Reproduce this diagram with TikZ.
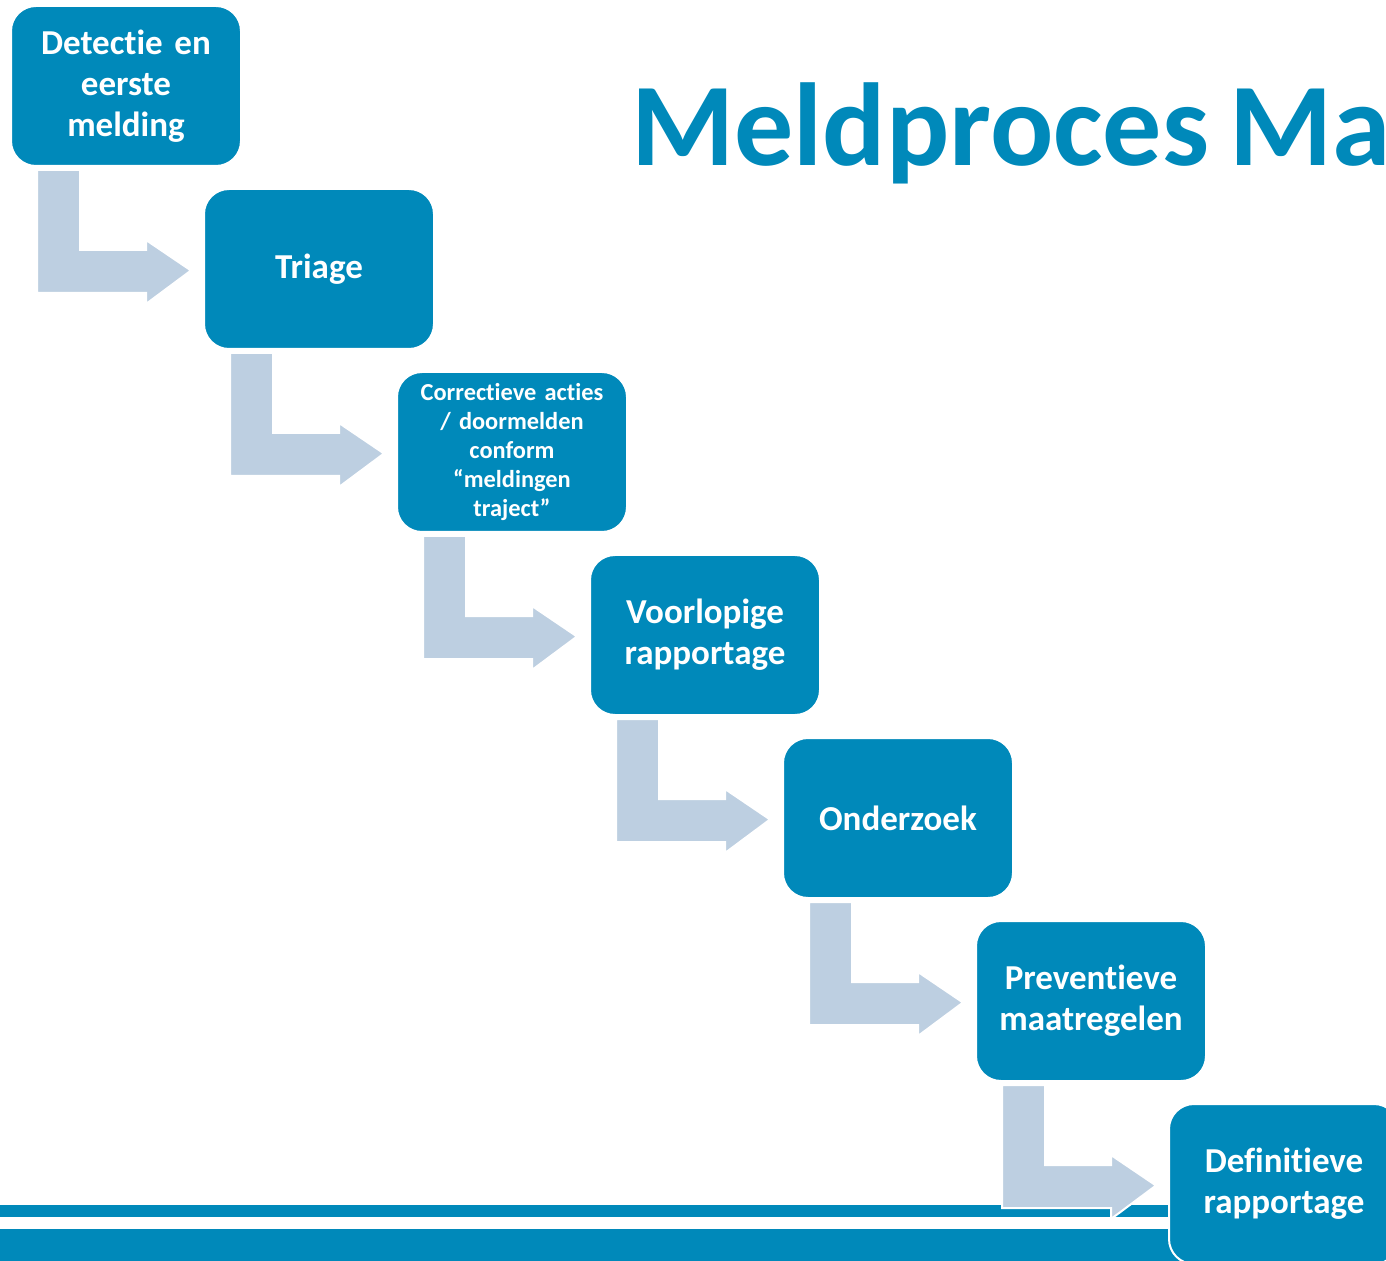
\documentclass[tikz,border=0pt]{standalone}
\usepackage{fontspec}
\setmainfont{Carlito}[Ligatures=NoCommon, WordSpace=0.75]
\usetikzlibrary{positioning,calc}
\definecolor{meldblue}{RGB}{0,137,186}
\definecolor{pijlgrey}{RGB}{189,207,225}
\tikzset{
    stap/.style={rectangle, draw=white, line width=1pt, fill=meldblue, rounded corners=12.5pt, minimum width=115pt, minimum height=80pt, text width=110pt, align=center, text=white, inner sep=0pt, anchor=north west, font=\bfseries\fontsize{17.5}{20.5}\selectfont},
    klein/.style={font=\bfseries\fontsize{12.2}{14.6}\selectfont},
    pijl/.style={draw=white, line width=1pt, fill=pijlgrey},
    lijn/.style={fill=meldblue}
}

\begin{document}
\begin{tikzpicture}[x=0.5pt, y=-0.5pt]
    \clip (0,0) rectangle (1386,1261);

    % Lijnen onderaan
    \fill[lijn] (0,1205) rectangle (1386,1217);
    \fill[lijn] (0,1229) rectangle (1386,1261);

    % Titel
    \node [anchor=base west, inner sep=0pt, text=meldblue, font=\bfseries\fontsize{59}{62}\selectfont] (titel) at (631,166) {Meldproces Ma};

    % Stappen
    \node [stap] (detectie) at (10,5) {Detectie en\\eerste\\melding};
    \node [stap] (triage) at ([shift={(193,183)}]detectie.north west) {Triage};
    \node [stap, klein] (correctief) at ([shift={(193,183)}]triage.north west) {Correctieve acties\\/ doormelden\\conform\\“meldingen\\traject”};
    \node [stap] (voorlopig) at ([shift={(193,183)}]correctief.north west) {Voorlopige\\rapportage};
    \node [stap] (onderzoek) at ([shift={(193,183)}]voorlopig.north west) {Onderzoek};
    \node [stap] (preventief) at ([shift={(193,183)}]onderzoek.north west) {Preventieve\\maatregelen};
    \node [stap] (definitief) at ([shift={(193,183)}]preventief.north west) {Definitieve\\rapportage};

    % Pijlen
    \foreach \van/\naar in {detectie/triage, triage/correctief, correctief/voorlopig, voorlopig/onderzoek, onderzoek/preventief, preventief/definitief}
        \filldraw [pijl] ([shift={(27,3)}]\van.south west) -- ([shift={(70,3)}]\van.south west)
            -- ([shift={(70,83)}]\van.south west) -- ([shift={(136,83)}]\van.south west)
            -- ([shift={(136,73)}]\van.south west) -- ([shift={(-12,1.5)}]\naar.west)
            -- ([shift={(136,137)}]\van.south west) -- ([shift={(136,126)}]\van.south west)
            -- ([shift={(27,126)}]\van.south west) -- cycle;
\end{tikzpicture}
\end{document}
